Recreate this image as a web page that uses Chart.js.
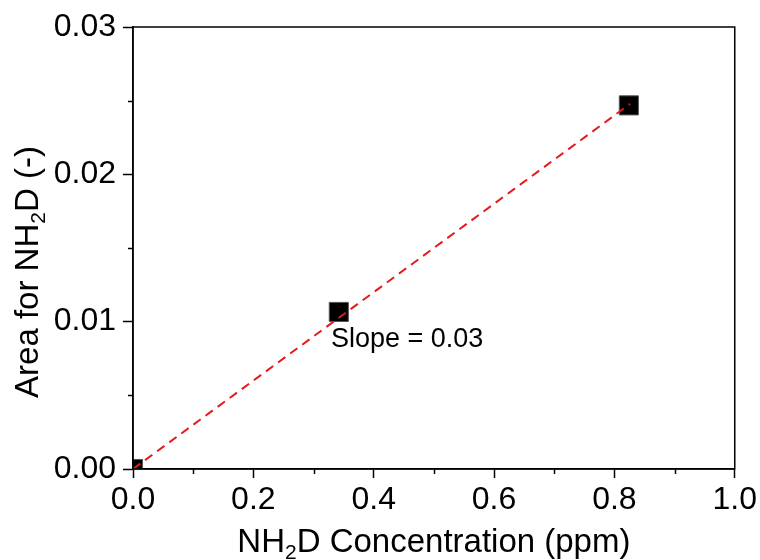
<!DOCTYPE html>
<html>
<head>
<meta charset="utf-8">
<title>NH2D calibration</title>
<script src="https://cdn.jsdelivr.net/npm/chart.js@4.4.1/dist/chart.umd.min.js"></script>
<style>
  html, body { margin: 0; padding: 0; background: #fff; }
  #wrap { width: 760px; height: 560px; }
</style>
</head>
<body>
<div id="wrap"><canvas id="calChart"></canvas></div>
<script>
// measured points
var concPpm = [0.0, 0.342, 0.824];
var areaVals = [0.0, 0.01066, 0.02468];
// fitted line ends
var fitX = [0.0, 0.826];
var fitY = [0.0, 0.02478];
var xTicks = [0, 0.2, 0.4, 0.6, 0.8, 1.0];
var yTicks = [0, 0.01, 0.02, 0.03];
var xMinor = [0.1, 0.3, 0.5, 0.7, 0.9];
var yMinor = [0.005, 0.015, 0.025];
var slopeNote = 'Slope = 0.03';

var FONT = '"Liberation Sans", Arial, sans-serif';

function toPts(xs, ys) {
  return xs.map(function (x, i) { return { x: x, y: ys[i] }; });
}

// box + minor ticks + axis titles + note
var extras = {
  id: 'extras',
  afterDraw: function (chart) {
    var ctx = chart.ctx, a = chart.chartArea;
    var xs = chart.scales.x, ys = chart.scales.y;
    ctx.save();
    ctx.strokeStyle = '#000';
    ctx.lineWidth = 1.5;
    ctx.strokeRect(a.left, a.top, a.right - a.left, a.bottom - a.top);

    ctx.beginPath();
    xMinor.forEach(function (v) {
      var px = Math.round(xs.getPixelForValue(v)) + 0.5;
      ctx.moveTo(px, a.bottom);
      ctx.lineTo(px, a.bottom + 5);
    });
    yMinor.forEach(function (v) {
      var py = Math.round(ys.getPixelForValue(v)) + 0.5;
      ctx.moveTo(a.left, py);
      ctx.lineTo(a.left - 5, py);
    });
    ctx.stroke();

    ctx.fillStyle = '#000';
    ctx.textBaseline = 'alphabetic';

    // x title with subscript
    var big = '33px ' + FONT, small = '21px ' + FONT;
    ctx.font = big;
    var w1 = ctx.measureText('NH').width;
    var w3 = ctx.measureText('D Concentration (ppm)').width;
    ctx.font = small;
    var w2 = ctx.measureText('2').width;
    var cx = (a.left + a.right) / 2;
    var x0 = cx - (w1 + w2 + w3) / 2, base = 552;
    ctx.textAlign = 'left';
    ctx.font = big; ctx.fillText('NH', x0, base);
    ctx.font = small; ctx.fillText('2', x0 + w1, base + 7);
    ctx.font = big; ctx.fillText('D Concentration (ppm)', x0 + w1 + w2, base);

    // y title, rotated
    ctx.font = big;
    var v1 = ctx.measureText('Area for NH').width;
    var v3 = ctx.measureText('D (-)').width;
    ctx.font = small;
    var v2 = ctx.measureText('2').width;
    ctx.save();
    ctx.translate(37.5, 272);
    ctx.rotate(-Math.PI / 2);
    var y0 = -(v1 + v2 + v3) / 2;
    ctx.font = big; ctx.fillText('Area for NH', y0, 0);
    ctx.font = small; ctx.fillText('2', y0 + v1, 7);
    ctx.font = big; ctx.fillText('D (-)', y0 + v1 + v2, 0);
    ctx.restore();

    // slope note
    ctx.font = '27px ' + FONT;
    ctx.fillText(slopeNote, xs.getPixelForValue(0.329), 347);
    ctx.restore();
  }
};

new Chart(document.getElementById('calChart').getContext('2d'), {
  type: 'scatter',
  data: {
    datasets: [{
      label: 'fit',
      type: 'line',
      data: toPts(fitX, fitY),
      borderColor: '#e41a1c',
      borderWidth: 2,
      borderDash: [9, 6],
      pointRadius: 0,
      fill: false,
      order: 0
    }, {
      label: 'NH2D',
      data: toPts(concPpm, areaVals),
      pointStyle: 'rect',
      pointRadius: 13.5,
      pointHoverRadius: 13.5,
      backgroundColor: '#000',
      borderColor: '#555',
      borderWidth: 1,
      order: 1
    }]
  },
  options: {
    responsive: true,
    maintainAspectRatio: false,
    animation: false,
    layout: { padding: { left: 0, top: 27, right: 25, bottom: 0 } },
    plugins: {
      legend: { display: false },
      tooltip: { enabled: false }
    },
    scales: {
      x: {
        type: 'linear',
        min: 0, max: 1.0,
        afterBuildTicks: function (s) { s.ticks = xTicks.map(function (v) { return { value: v }; }); },
        afterFit: function (s) { s.height = 91; },
        grid: { drawOnChartArea: false, tickLength: 9, color: '#000', tickWidth: 1.5 },
        border: { color: '#000', width: 1.5 },
        ticks: {
          color: '#000', padding: 3,
          font: { family: FONT, size: 32 },
          maxRotation: 0,
          callback: function (v) { return Number(v).toFixed(1); }
        }
      },
      y: {
        type: 'linear',
        min: 0, max: 0.03,
        afterBuildTicks: function (s) { s.ticks = yTicks.map(function (v) { return { value: v }; }); },
        afterFit: function (s) { s.width = 133; },
        grid: { drawOnChartArea: false, tickLength: 10, color: '#000', tickWidth: 1.5 },
        border: { color: '#000', width: 1.5 },
        ticks: {
          color: '#000', padding: 7,
          font: { family: FONT, size: 32 },
          callback: function (v) { return Number(v).toFixed(2); }
        }
      }
    }
  },
  plugins: [extras]
});
</script>
</body>
</html>
